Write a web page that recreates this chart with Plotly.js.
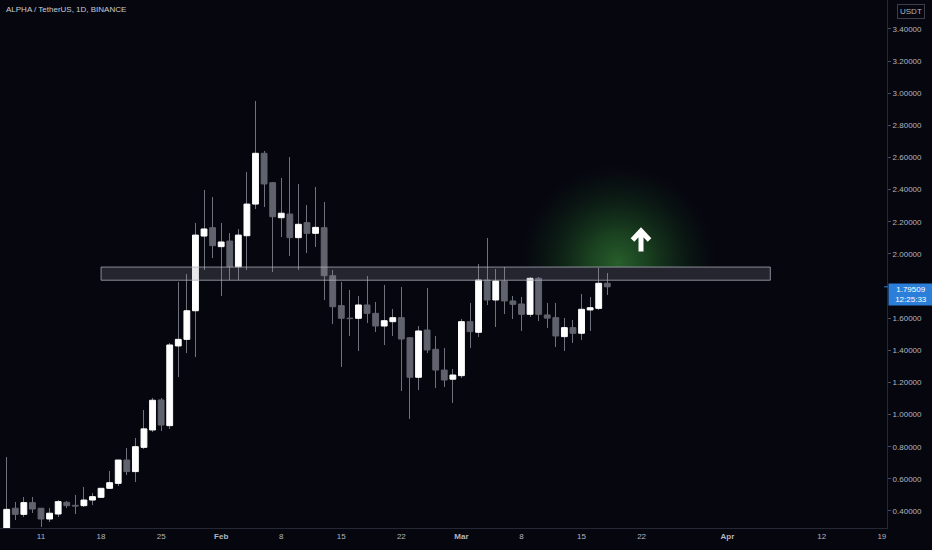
<!DOCTYPE html>
<html>
<head>
<meta charset="utf-8">
<script src="https://cdn.plot.ly/plotly-3.0.1.min.js"></script>
<style>
html,body{margin:0;padding:0;background:#06060f;}
#chart{width:932px;height:550px;}
</style>
</head>
<body>
<div id="chart"></div>
<script>
// ---- Data (ALPHA / TetherUS, 1D, BINANCE) ----
const dates = [
 '2021-01-07','2021-01-08','2021-01-09','2021-01-10','2021-01-11','2021-01-12','2021-01-13','2021-01-14',
 '2021-01-15','2021-01-16','2021-01-17','2021-01-18','2021-01-19','2021-01-20','2021-01-21','2021-01-22',
 '2021-01-23','2021-01-24','2021-01-25','2021-01-26','2021-01-27','2021-01-28','2021-01-29','2021-01-30',
 '2021-01-31','2021-02-01','2021-02-02','2021-02-03','2021-02-04','2021-02-05','2021-02-06','2021-02-07',
 '2021-02-08','2021-02-09','2021-02-10','2021-02-11','2021-02-12','2021-02-13','2021-02-14','2021-02-15',
 '2021-02-16','2021-02-17','2021-02-18','2021-02-19','2021-02-20','2021-02-21','2021-02-22','2021-02-23',
 '2021-02-24','2021-02-25','2021-02-26','2021-02-27','2021-02-28','2021-03-01','2021-03-02','2021-03-03',
 '2021-03-04','2021-03-05','2021-03-06','2021-03-07','2021-03-08','2021-03-09','2021-03-10','2021-03-11',
 '2021-03-12','2021-03-13','2021-03-14','2021-03-15','2021-03-16','2021-03-17','2021-03-18'
];
const openP = [
 0.290,0.417,0.379,0.452,0.417,0.350,0.381,0.454,
 0.435,0.433,0.468,0.485,0.541,0.572,0.717,0.645,
 0.796,0.904,1.091,0.931,1.427,1.468,1.646,2.111,
 2.163,2.045,2.080,1.920,2.113,2.310,2.626,2.443,
 2.225,2.248,2.101,2.194,2.128,2.163,1.864,1.678,
 1.600,1.599,1.682,1.630,1.551,1.578,1.603,1.478,
 1.232,1.526,1.406,1.277,1.220,1.242,1.578,1.512,
 1.837,1.713,1.831,1.707,1.688,1.624,1.848,1.620,
 1.603,1.485,1.541,1.506,1.651,1.661,1.817
];
const highP = [
 0.738,0.458,0.485,0.489,0.420,0.417,0.468,0.460,
 0.500,0.547,0.514,0.541,0.649,0.720,0.790,0.852,
 1.028,1.101,1.100,1.447,1.827,1.875,2.194,2.398,
 2.356,2.194,2.130,2.153,2.511,2.951,2.640,2.449,
 2.470,2.605,2.433,2.304,2.418,2.325,1.900,1.827,
 1.775,1.738,1.862,1.702,1.806,1.655,1.796,1.480,
 1.551,1.786,1.489,1.412,1.282,1.593,1.692,1.937,
 2.097,1.904,1.920,1.738,1.730,1.858,1.858,1.692,
 1.696,1.600,1.589,1.750,1.734,1.910,1.879
];
const lowP = [
 0.280,0.344,0.365,0.386,0.300,0.330,0.360,0.420,
 0.380,0.423,0.437,0.480,0.537,0.555,0.624,0.582,
 0.784,0.890,0.900,0.912,1.232,1.381,1.360,1.900,
 1.972,1.738,1.837,1.837,1.900,2.279,2.293,1.889,
 2.107,1.987,1.900,2.004,2.045,1.713,1.564,1.298,
 1.489,1.397,1.568,1.516,1.433,1.489,1.149,0.970,
 1.153,1.381,1.164,1.174,1.070,1.226,1.412,1.485,
 1.682,1.547,1.626,1.593,1.522,1.609,1.584,1.537,
 1.422,1.397,1.443,1.464,1.520,1.650,1.744
];
const closeP = [
 0.410,0.379,0.452,0.412,0.350,0.386,0.458,0.433,
 0.430,0.468,0.489,0.541,0.576,0.717,0.645,0.800,
 0.911,1.089,0.935,1.433,1.468,1.646,2.117,2.155,
 2.051,2.074,1.920,2.117,2.310,2.626,2.435,2.231,
 2.253,2.101,2.184,2.128,2.165,1.864,1.671,1.599,
 1.597,1.682,1.630,1.551,1.584,1.603,1.470,1.232,
 1.520,1.402,1.277,1.215,1.246,1.578,1.516,1.837,
 1.713,1.831,1.707,1.686,1.624,1.848,1.624,1.600,
 1.489,1.541,1.506,1.655,1.665,1.817,1.79509
];
const lastPrice = 1.79509;
const lastTime = '12:25:33';
const tickDates = ['2021-01-11','2021-01-18','2021-01-25','2021-02-01','2021-02-08','2021-02-15','2021-02-22',
 '2021-03-01','2021-03-08','2021-03-15','2021-03-22','2021-04-01','2021-04-12','2021-04-19'];
const tickLabels = ['11','18','25','<b>Feb</b>','8','15','22','<b>Mar</b>','8','15','22','<b>Apr</b>','12','19'];
// price ticks shown on the scale (1.80000 sits under the last-price label)
const priceTicks = [0.4,0.6,0.8,1.0,1.2,1.4,1.6,2.0,2.2,2.4,2.6,2.8,3.0,3.2,3.4];
const zoneTop = 1.918, zoneBottom = 1.836;
const zoneStart = '2021-01-18', zoneEnd = '2021-04-06';

// ---- derived for drawing ----
const DAY = 86400000;
const UP = '#ffffff', DOWN = '#60636d', WICK = '#6f727c';
const bodyColors = closeP.map((c, i) => c >= openP[i] ? UP : DOWN);

const wickTrace = {
  type: 'bar', x: dates, base: lowP, y: highP.map((h, i) => h - lowP[i]),
  width: 0.118 * DAY, marker: {color: WICK, line: {width: 0}},
  hoverinfo: 'skip', showlegend: false
};
const bodyTrace = {
  type: 'bar', x: dates, base: openP, y: closeP.map((c, i) => c - openP[i]),
  width: 0.68 * DAY, marker: {color: bodyColors, line: {width: 1, color: bodyColors}},
  hoverinfo: 'skip', showlegend: false
};

const glowSvg = '<svg xmlns="http://www.w3.org/2000/svg" width="200" height="120" viewBox="0 0 200 120" preserveAspectRatio="none">' +
 '<defs><radialGradient id="g" gradientUnits="userSpaceOnUse" cx="98" cy="116" r="102">' +
 '<stop offset="0" stop-color="rgb(42,102,46)" stop-opacity="0.92"/>' +
 '<stop offset="0.3" stop-color="rgb(30,76,35)" stop-opacity="0.82"/>' +
 '<stop offset="0.6" stop-color="rgb(17,46,25)" stop-opacity="0.62"/>' +
 '<stop offset="0.85" stop-color="rgb(10,24,18)" stop-opacity="0.35"/>' +
 '<stop offset="1" stop-color="rgb(6,6,15)" stop-opacity="0"/>' +
 '</radialGradient></defs><rect x="0" y="0" width="200" height="120" fill="url(#g)"/></svg>';
const glowSrc = 'data:image/svg+xml;charset=utf-8,' + encodeURIComponent(glowSvg);

const W = 887, H = 528; // plot area in px, used only for paper-coordinate decorations
const px = v => v / W, py = v => 1 - v / H;

const FONT = 'Liberation Sans, Arial, sans-serif';
const layout = {
  width: 932, height: 550,
  margin: {l: 0, r: 45, t: 0, b: 22, pad: 0},
  paper_bgcolor: '#06060f', plot_bgcolor: 'rgba(0,0,0,0)',
  barmode: 'overlay', bargap: 0,
  showlegend: false,
  font: {family: FONT, size: 8, color: '#b2b5be'},
  xaxis: {
    type: 'date', range: ['2021-01-06 05:18', '2021-04-19 14:24'],
    tickmode: 'array', tickvals: tickDates, ticktext: tickLabels,
    showgrid: false, zeroline: false, showline: true, linecolor: '#262935', linewidth: 1,
    ticks: '', tickfont: {family: FONT, size: 8, color: '#b2b5be'}, automargin: false, fixedrange: true
  },
  yaxis: {
    side: 'right', range: [0.294, 3.58], tickmode: 'array', tickvals: priceTicks,
    ticktext: priceTicks.map(v => v.toFixed(5)),
    showgrid: false, zeroline: false, showline: true, linecolor: '#262935', linewidth: 1,
    ticks: 'outside', ticklen: 3, tickcolor: '#4a4d58', tickfont: {family: FONT, size: 8, color: '#b2b5be'},
    automargin: false, fixedrange: true
  },
  images: [{
    source: glowSrc, xref: 'paper', yref: 'paper',
    x: px(520), y: py(147), sizex: px(200), sizey: 120 / H,
    xanchor: 'left', yanchor: 'top', sizing: 'stretch', layer: 'below'
  }],
  shapes: [
    {type: 'rect', xref: 'x', yref: 'y', x0: zoneStart, x1: zoneEnd, y0: zoneBottom, y1: zoneTop,
     fillcolor: 'rgba(150,152,165,0.22)', line: {color: 'rgba(175,178,190,0.75)', width: 1}, layer: 'above'},
    {type: 'path', xref: 'paper', yref: 'paper',
     path: `M ${px(632.5)} ${py(240)} L ${px(641)} ${py(231)} L ${px(649.5)} ${py(240)} M ${px(641)} ${py(231.5)} L ${px(641)} ${py(251.5)}`,
     line: {color: '#ffffff', width: 5}, layer: 'above'},
    {type: 'line', xref: 'paper', yref: 'y', x0: px(884), x1: px(888), y0: lastPrice, y1: lastPrice,
     line: {color: '#2b7fd9', width: 1}, layer: 'above'}
  ],
  annotations: [
    {text: 'ALPHA / TetherUS, 1D, BINANCE', xref: 'paper', yref: 'paper', x: px(4), y: py(10),
     xanchor: 'left', yanchor: 'middle', showarrow: false,
     font: {family: FONT, size: 8, color: '#c9ccd4'}},
    {text: 'USDT', xref: 'paper', yref: 'paper', x: px(911), y: py(11),
     xanchor: 'center', yanchor: 'middle', showarrow: false,
     bordercolor: '#3c3f4a', borderwidth: 1, borderpad: 2,
     font: {family: FONT, size: 8, color: '#b2b5be'}},
    {text: lastPrice.toFixed(5) + '<br>' + lastTime, xref: 'paper', yref: 'y', x: 1, y: lastPrice,
     xanchor: 'left', yanchor: 'top', xshift: 1, yshift: 4, showarrow: false,
     bgcolor: '#2b7fd9', borderpad: 1, width: 42, align: 'center',
     font: {family: FONT, size: 8, color: '#ffffff'}}
  ]
};

Plotly.newPlot('chart', [wickTrace, bodyTrace], layout, {displayModeBar: false, staticPlot: true});
</script>
</body>
</html>
